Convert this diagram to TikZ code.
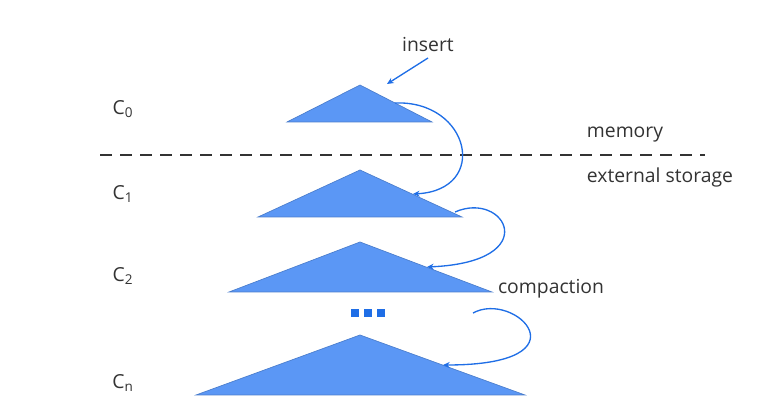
\documentclass[tikz,border=0pt]{standalone}
\usepackage{fontspec}
\setmainfont{Open Sans}
\usetikzlibrary{arrows.meta}
\definecolor{trifill}{HTML}{5B97F5}
\definecolor{tridraw}{HTML}{4A7DCC}
\definecolor{arrowblue}{HTML}{1F6EE6}
\definecolor{txt}{HTML}{333333}
\begin{document}
\begin{tikzpicture}[x=0.75pt,y=-0.75pt,
  tri/.style={fill=trifill,draw=tridraw,line width=0.5pt},
  lbl/.style={text=txt,font=\fontsize{14.5}{16}\selectfont,inner sep=0pt},
  conn/.style={draw=arrowblue,line width=1pt,-{Stealth[length=5pt,width=4.5pt]}},
  dotsq/.style={fill=arrowblue,draw=none,minimum size=5.5pt,inner sep=0pt}]
\useasboundingbox (0,0) rectangle (783,420);
% triangles
\draw[tri] (287,122) -- (360,85) -- (432,122) -- cycle;
\draw[tri] (258,217) -- (360,170) -- (462,217) -- cycle;
\draw[tri] (229,292) -- (360,242) -- (492,292) -- cycle;
\draw[tri] (196,395) -- (360,335) -- (525,395) -- cycle;
% dashed separator
\draw[txt,line width=2.2pt,dash pattern=on 9pt off 6pt] (100,155) -- (705,155);
% labels
\node[lbl] (c0) at (123,109) {C\textsubscript{0}};
\node[lbl] (c1) at (123,194) {C\textsubscript{1}};
\node[lbl] (c2) at (123,276) {C\textsubscript{2}};
\node[lbl] (cn) at (123,383) {C\textsubscript{n}};
\node[lbl] (ins) at (428,45) {insert};
\node[lbl] (mem) at (625,135) {memory};
\node[lbl] (ext) at (660,177) {external storage};
\node[lbl] (cmp) at (551,289) {compaction};
% dots
\node[dotsq] (d1) at (355,313) {};
\node[dotsq] (d2) at (368,313) {};
\node[dotsq] (d3) at (381,313) {};
% arrow points
\coordinate (insS) at (428,58);
\coordinate (insE) at (387,84);
\coordinate (a0) at (395,103);
\coordinate (b1) at (413,194);
\coordinate (a1) at (455,212);
\coordinate (b2) at (427,267);
\coordinate (a2) at (473,313);
\coordinate (bn) at (443,365);
\draw[conn] (insS) -- (insE);
\draw[conn] (a0) .. controls (470,100) and (490,190) .. (b1);
\draw[conn] (a1) .. controls (505,190) and (545,262) .. (b2);
\draw[conn] (a2) .. controls (515,290) and (590,365) .. (bn);
\end{tikzpicture}
\end{document}
